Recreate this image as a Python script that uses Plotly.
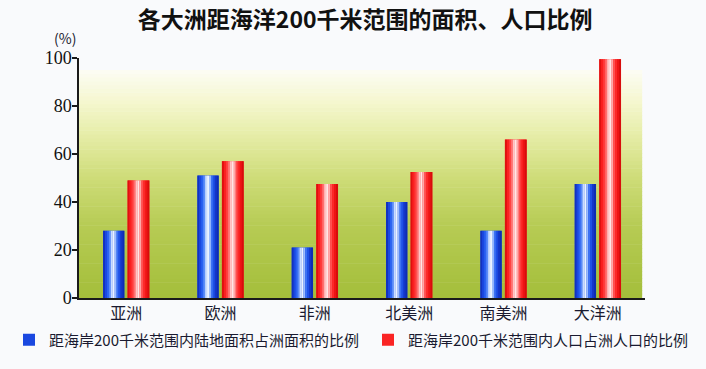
import plotly.graph_objects as go

categories = ["亚洲", "欧洲", "非洲", "北美洲", "南美洲", "大洋洲"]
area_share = [28, 51, 21, 40, 28, 47.5]
pop_share = [49, 57, 47.5, 52.5, 66, 99.5]
series_names = ["距海岸200千米范围内陆地面积占洲面积的比例", "距海岸200千米范围内人口占洲人口的比例"]
y_ticks = [0, 20, 40, 60, 80, 100]

CJK = "Noto Sans CJK SC"
fig = go.Figure()

def add_cylinder(values, name, base_color, strip_colors, left, width, legend):
    fig.add_trace(go.Bar(
        x=categories, y=values, name=name, legend=legend,
        marker=dict(color=base_color, line=dict(width=0)),
        offset=left, width=width, hoverinfo="x+y"))
    n = len(strip_colors)
    sw = width / n
    for i, c in enumerate(strip_colors):
        fig.add_trace(go.Bar(
            x=categories, y=values, showlegend=False, hoverinfo="skip",
            marker=dict(color=c, line=dict(width=0)),
            offset=left + i * sw, width=sw * 1.05))

blue_strips = ["#1232c0", "#1a48e0", "#2a62f2", "#5a8cf8", "#c8dcff",
               "#eaf2ff", "#9cbcfc", "#3c72f4", "#1e50e6", "#1436c8", "#0e2cb4"]
red_strips = ["#e01010", "#fa2020", "#ff3c3c", "#ff7070", "#ffc4c4",
              "#ffe6e6", "#ffa8a8", "#ff5050", "#fc2828", "#ee1414", "#d80c0c"]

add_cylinder(area_share, series_names[0], "#1a48e0", blue_strips, -0.245, 0.225, "legend")
add_cylinder(pop_share, series_names[1], "#fa2424", red_strips, 0.015, 0.23, "legend2")

# background gradient (white top -> yellow-green bottom)
stops = [(0.0, (164, 190, 58)), (0.3, (182, 203, 84)), (0.5, (206, 220, 120)),
         (0.68, (230, 237, 168)), (0.82, (245, 247, 208)), (0.95, (252, 252, 244))]
def col_at(t):
    for (t0, c0), (t1, c1) in zip(stops[:-1], stops[1:]):
        if t0 <= t <= t1:
            f = (t - t0) / (t1 - t0)
            return "rgb(%d,%d,%d)" % tuple(round(a + (b - a) * f) for a, b in zip(c0, c1))
    return "rgb(%d,%d,%d)" % stops[-1][1]
N = 60
top = 0.95
for k in range(N):
    y0 = top * k / N
    y1 = top * (k + 1) / N + 0.002
    fig.add_shape(type="rect", xref="paper", yref="paper", x0=0, x1=0.995, y0=y0, y1=min(y1, top),
                  fillcolor=col_at((y0 + y1) / 2), line=dict(width=0), layer="below")

legend_common = dict(orientation="h", xanchor="left", y=(298 - 340) / 240, yanchor="middle",
                     font=dict(family=CJK, size=15, color="#1a1a30"),
                     bgcolor="rgba(0,0,0,0)", itemclick=False, itemdoubleclick=False)

fig.update_layout(
    width=706, height=369,
    margin=dict(l=79, r=61, t=58, b=71, autoexpand=False),
    paper_bgcolor="#f9fafc", plot_bgcolor="rgba(0,0,0,0)",
    barmode="overlay",
    title=dict(text="<b>各大洲距海洋200千米范围的面积、人口比例</b>", x=357 / 706, xanchor="center",
               xref="paper", yref="container",
               y=1 - 20 / 369, yanchor="middle", font=dict(family=CJK, size=23, color="#111111")),
    showlegend=True,
    legend=dict(x=(9 - 79) / 566, **legend_common),
    legend2=dict(x=(368 - 79) / 566, **legend_common),
    xaxis=dict(range=[-0.5, 5.5], showline=True, linecolor="#1a1a1a", linewidth=2,
               ticks="", showgrid=False, tickfont=dict(family=CJK, size=16, color="#1a1a30"),
               fixedrange=True),
    yaxis=dict(range=[0, 100], tickvals=y_ticks, showline=True, linecolor="#1a1a1a", linewidth=1.5,
               ticks="outside", ticklen=5, tickwidth=1.5, tickcolor="#1a1a1a", showgrid=False,
               zeroline=False, ticklabelstandoff=-3,
               tickfont=dict(family="Liberation Serif", size=18, color="#111111"),
               fixedrange=True),
    annotations=[dict(text="(%)", xref="paper", yref="paper", x=(65 - 79) / 566, y=(298 - 38) / 240,
                      xanchor="center", yanchor="middle", showarrow=False,
                      font=dict(family=CJK, size=14, color="#1a1a30"))],
)

fig.write_html("out.html", config={"displayModeBar": False},
               post_script="document.body.style.margin='0px';")
